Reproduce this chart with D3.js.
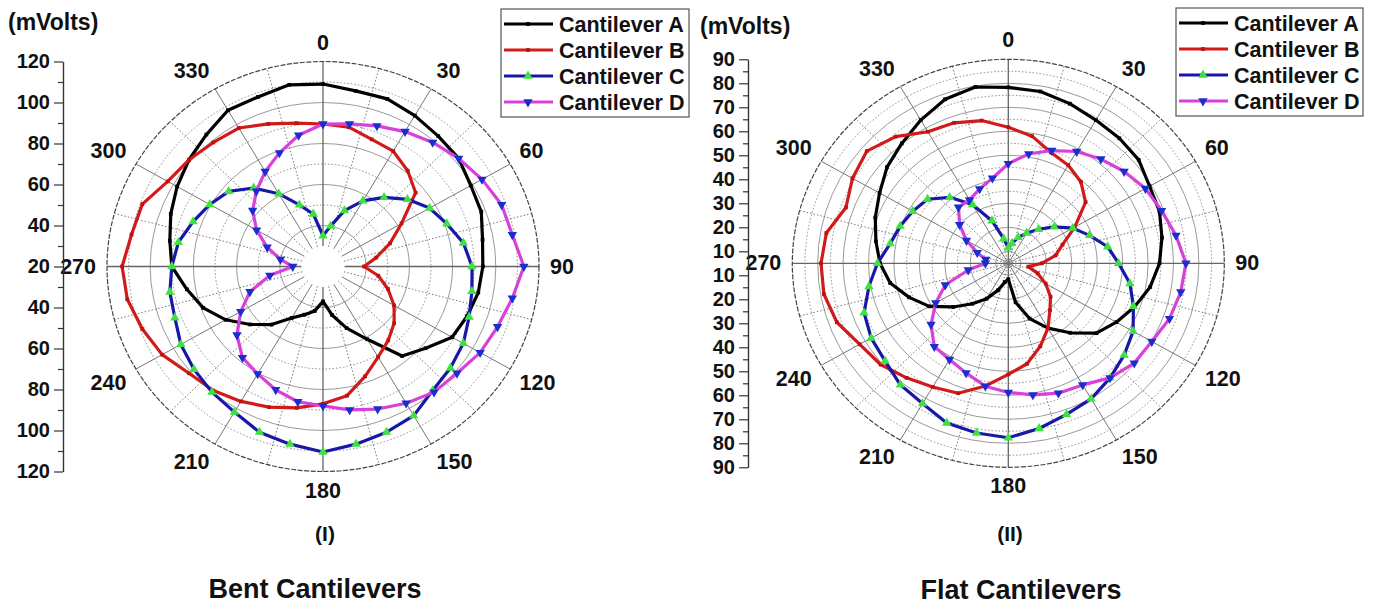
<!DOCTYPE html>
<html>
<head>
<meta charset="utf-8">
<script src="https://cdn.jsdelivr.net/npm/d3@7"></script>
<style>
  body { margin: 0; background: #fff; }
  text { font-family: "Liberation Sans", Arial, sans-serif; font-weight: bold; fill: #111; }
</style>
</head>
<body>
<svg id="chart" width="1373" height="605"></svg>
<script>
// ---------------- DATA ----------------
const angles = d3.range(0, 360, 10);               // degrees, clockwise from top
const seriesNames = ["Cantilever A", "Cantilever B", "Cantilever C", "Cantilever D"];
const angleLabels = [0, 30, 60, 90, 120, 150, 180, 210, 240, 270, 300, 330];

// (I) Bent cantilevers (mVolts)
const bentA = [109,107,107,105,103,102,99,98,95,94, 93,91,89,82,77,61,52,44,37,42, 45,49,57,64,72,79,84,90,92,95, 98,101,104,108,108,110];
const bentB = [89.5,89,86,85,81,76,62,53,45,39, 46,52,58,63,67,71,77,84,87,90, 93,96,99,101,106,109,112,113,110,109, 103,101,99,98,94,91];
const bentC = [35,40,49,57,64,71,77,81,86,89, 90,92,95,97,99,104,106,108,110.5,108, 106,102,100,98,96,93,92,90,88,84, 80.5,77,70,61,52,46];
const bentD = [89.5,90.6,93,96,99,102,105,108,109,113, 109,106,104,101,100,97,94,91,88,87, 84,80.5,78,72,64,56,45,34,40,47.5, 55.5,62.5,68,73.5,79,85];

// (II) Flat cantilevers (mVolts)
const flatA = [78.3,77.7,75.8,73.9,73,72,69.2,68.3,66.4,64.5, 61.7,57.9,54.1,50.3,42.8,36.2,29.5,21.5,11.6,13, 17,22,27,33.3,40.9,46.5,52.2,55.5,57.9,60.7, 63.5,67.3,70.2,73.9,77.7,79.6];
const flatB = [61.7,58.8,54.1,52.2,49.4,44.7,35.2,27.7,23.9,18.2, 13,17.3,22,26.7,30.5,36.2,41.8,47.5,51.3,56.9, 62.6,64.5,67.3,70.6,72.5,76.8,78.7,78.7,77.7,73, 75.8,77.7,73.9,68.3,67.3,65.4];
const flatC = [11.5,13.5,16.5,19.5,23.5,28.6,34.3,39,44.7,48.4, 53.6,57.4,61.7,64.5,67.3,70.2,72,74.9,77.7,76.8, 75.8,72.5,71.1,68.3,67.3,65.4,60.7,56.5,52.2,50.3, 48.4,46.5,40.9,33.3,23.9,15.4];
const flatD = [46.5,51.3,55,58.8,61.7,64.5,67.3,69.2,72,74.9, 73.9,72.5,70.2,69.7,67.3,63.5,62.6,60.7,58.8,57, 53.6,51.3,50.3,44.7,38,31.4,21,14,14,18, 24,30,35.5,35.5,38,41];

// radial axis tick labels (printed top to bottom on the left axis)
const bentAxisLabels = [120,100,80,60,40,20,40,60,80,100,120];
const flatAxisLabels = [90,80,70,60,50,40,30,20,10,10,20,30,40,50,60,70,80,90];
const bentAxisMinor = [110,90,70,50,30];
const flatAxisMinor = [85,75,65,55,45,35,25,15];

// ---------------- STYLE / LAYOUT ----------------
const styles = [
  { color: "#000000", marker: "square",  mcolor: "#000000", msize: 14 },
  { color: "#d11a1a", marker: "square",  mcolor: "#c01010", msize: 14 },
  { color: "#1818a8", marker: "triUp",   mcolor: "#3ee23e", msize: 38 },
  { color: "#d840da", marker: "triDown", mcolor: "#1a2ed0", msize: 38 }
];

const charts = [
  { cx: 323, cy: 266.5, rx: 216, ry: 205, rMin: 20, rMax: 120, hole: 30,
    gridMajor: [40,60,80,100], gridMinor: [50,70,90,110],
    data: [bentA, bentB, bentC, bentD],
    axisX: 63, axisLabels: bentAxisLabels, axisMinor: bentAxisMinor,
    legend: { x: 501, y: 9, w: 188, h: 108, row0: 24 },
    unit: { x: 8, y: 22 }, sub: { text: "(I)", x: 325, y: 533 },
    title: { text: "Bent Cantilevers", x: 315, y: 589 } },
  { cx: 1008.3, cy: 263.3, rx: 216, ry: 204, rMin: 5, rMax: 90, hole: 5,
    gridMajor: [10,20,30,40,50,60,70,80], gridMinor: [15,25,35,45,55,65,75,85],
    data: [flatA, flatB, flatC, flatD],
    axisX: 748, axisLabels: flatAxisLabels, axisMinor: flatAxisMinor,
    legend: { x: 1176, y: 8, w: 187, h: 108, row0: 23 },
    unit: { x: 700, y: 26 }, sub: { text: "(II)", x: 1010, y: 533 },
    title: { text: "Flat Cantilevers", x: 1021, y: 590 } }
];

const svg = d3.select("#chart");

function markerPath(type, size) {
  if (type === "square") return d3.symbol(d3.symbolSquare, size)();
  return d3.symbol(d3.symbolTriangle, size)();
}

function drawChart(cfg) {
  const g = svg.append("g");
  const r = d3.scaleLinear().domain([cfg.rMin, cfg.rMax]).range([0, 1]);
  const pt = (a, v) => {
    const t = a * Math.PI / 180;
    return [cfg.cx + r(v) * cfg.rx * Math.sin(t), cfg.cy - r(v) * cfg.ry * Math.cos(t)];
  };

  // grid: minor (dotted) circles
  g.append("g").selectAll("ellipse").data(cfg.gridMinor).join("ellipse")
    .attr("cx", cfg.cx).attr("cy", cfg.cy)
    .attr("rx", v => r(v) * cfg.rx).attr("ry", v => r(v) * cfg.ry)
    .attr("fill", "none").attr("stroke", "#8c8c8c").attr("stroke-width", 1)
    .attr("stroke-dasharray", "1.5 2");
  // grid: major circles
  g.append("g").selectAll("ellipse").data(cfg.gridMajor).join("ellipse")
    .attr("cx", cfg.cx).attr("cy", cfg.cy)
    .attr("rx", v => r(v) * cfg.rx).attr("ry", v => r(v) * cfg.ry)
    .attr("fill", "none").attr("stroke", "#9a9a9a").attr("stroke-width", 1);

  // spokes
  const spokes = d3.range(0, 360, 15);
  g.append("g").selectAll("line").data(spokes).join("line")
    .attr("x1", a => pt(a, cfg.hole)[0]).attr("y1", a => pt(a, cfg.hole)[1])
    .attr("x2", a => pt(a, cfg.rMax)[0]).attr("y2", a => pt(a, cfg.rMax)[1])
    .attr("stroke", a => a % 90 === 0 ? "#666" : "#777")
    .attr("stroke-width", a => a % 90 === 0 ? 1.3 : 1)
    .attr("stroke-dasharray", a => a % 30 === 0 ? null : "1.5 2");

  // outer boundary
  g.append("ellipse").attr("cx", cfg.cx).attr("cy", cfg.cy)
    .attr("rx", cfg.rx).attr("ry", cfg.ry)
    .attr("fill", "none").attr("stroke", "#444").attr("stroke-width", 1.2)
    .attr("stroke-dasharray", "5 1.5");

  // angle labels
  g.append("g").selectAll("text").data(angleLabels).join("text")
    .attr("x", a => cfg.cx + (cfg.rx + 11) * Math.sin(a * Math.PI / 180))
    .attr("y", a => {
      const c = Math.cos(a * Math.PI / 180);
      const s = Math.abs(c) < 0.01 ? 0 : Math.sign(c);
      return cfg.cy - (cfg.ry + 11) * c - 8 * s;
    })
    .attr("text-anchor", a => {
      const s = Math.sin(a * Math.PI / 180);
      return Math.abs(s) < 0.01 ? "middle" : (s > 0 ? "start" : "end");
    })
    .attr("dominant-baseline", "central")
    .attr("font-size", 21.5)
    .text(a => a);

  // series
  const line = d3.line().curve(d3.curveLinearClosed);
  cfg.data.forEach((vals, i) => {
    const st = styles[i];
    const pts = angles.map((a, k) => pt(a, vals[k]));
    g.append("path").attr("d", line(pts))
      .attr("fill", "none").attr("stroke", st.color)
      .attr("stroke-width", 3.2).attr("stroke-linejoin", "round");
    g.append("g").selectAll("path").data(pts).join("path")
      .attr("d", markerPath(st.marker, st.msize))
      .attr("transform", p => `translate(${p[0]},${p[1]})` + (st.marker === "triDown" ? " rotate(180)" : ""))
      .attr("fill", st.mcolor);
  });

  // left radial axis (mirrored labels)
  const span = cfg.rMax - cfg.rMin;
  const ys = d3.scaleLinear().domain([-span, span]).range([cfg.cy + cfg.ry, cfg.cy - cfg.ry]);
  const half = cfg.axisLabels.length / 2;
  const majorVals = cfg.axisLabels.map((v, i) => (i < half ? 1 : -1) * (v - cfg.rMin));
  const minorVals = cfg.axisMinor.flatMap(v => [v - cfg.rMin, -(v - cfg.rMin)]);
  const ax = g.append("g").attr("transform", `translate(${cfg.axisX},0)`);
  ax.call(d3.axisLeft(ys).tickValues(minorVals).tickSize(5).tickSizeOuter(0).tickFormat(""));
  const ax2 = g.append("g").attr("transform", `translate(${cfg.axisX},0)`);
  ax2.call(d3.axisLeft(ys).tickValues(majorVals).tickSize(9).tickPadding(4).tickSizeOuter(0)
      .tickFormat(d => cfg.rMin + Math.abs(d)));
  [ax, ax2].forEach(a => {
    a.select(".domain").attr("stroke", "#333").attr("stroke-width", 1.2);
    a.selectAll(".tick line").attr("stroke", "#333").attr("stroke-width", 1.2);
  });
  ax2.selectAll(".tick text").attr("font-size", 20)
    .attr("font-family", "Liberation Sans, Arial, sans-serif").attr("font-weight", "bold")
    .attr("fill", "#111");

  // units label
  g.append("text").attr("x", cfg.unit.x).attr("y", cfg.unit.y)
    .attr("dominant-baseline", "central").attr("font-size", 23).text("(mVolts)");

  // legend
  const L = cfg.legend;
  const lg = g.append("g");
  lg.append("rect").attr("x", L.x).attr("y", L.y).attr("width", L.w).attr("height", L.h)
    .attr("fill", "#fff").attr("stroke", "#555").attr("stroke-width", 1.2);
  const rows = lg.selectAll("g.row").data(seriesNames).join("g").attr("class", "row")
    .attr("transform", (d, i) => `translate(0,${L.row0 + i * 26})`);
  rows.append("line").attr("x1", L.x + 3).attr("x2", L.x + 52).attr("y1", 0).attr("y2", 0)
    .attr("stroke", (d, i) => styles[i].color).attr("stroke-width", 3.2);
  rows.append("path")
    .attr("d", (d, i) => markerPath(styles[i].marker, styles[i].msize))
    .attr("transform", (d, i) => `translate(${L.x + 27},0)` + (styles[i].marker === "triDown" ? " rotate(180)" : ""))
    .attr("fill", (d, i) => styles[i].mcolor);
  rows.append("text").attr("x", L.x + 58).attr("y", 1)
    .attr("dominant-baseline", "central").attr("font-size", 21.5).text(d => d);

  // sub label and title
  g.append("text").attr("x", cfg.sub.x).attr("y", cfg.sub.y).attr("text-anchor", "middle")
    .attr("dominant-baseline", "central").attr("font-size", 21).text(cfg.sub.text);
  g.append("text").attr("x", cfg.title.x).attr("y", cfg.title.y).attr("text-anchor", "middle")
    .attr("dominant-baseline", "central").attr("font-size", 27).text(cfg.title.text);
}

charts.forEach(drawChart);
</script>
</body>
</html>
